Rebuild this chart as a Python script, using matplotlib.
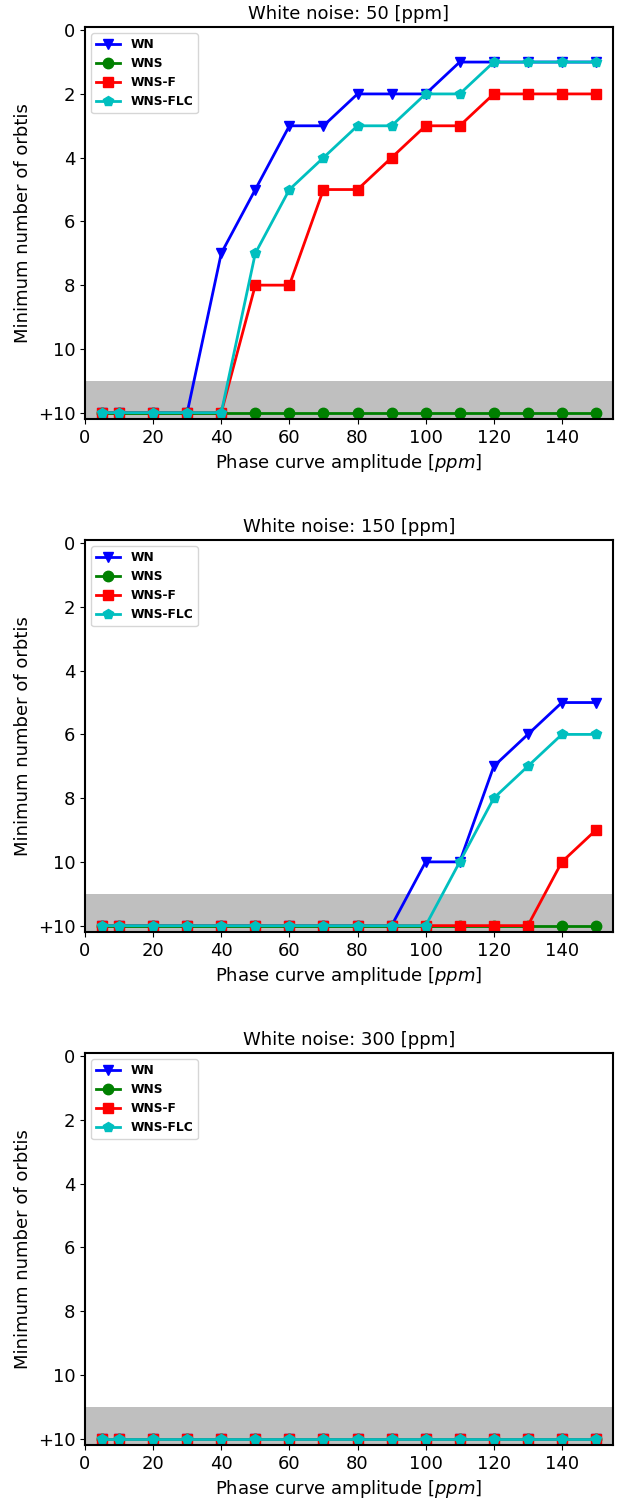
import matplotlib
matplotlib.use("Agg")
import matplotlib.pyplot as plt

x = [5, 10, 20, 30, 40, 50, 60, 70, 80, 90, 100, 110, 120, 130, 140, 150]
titles = ["White noise: 50 [ppm]", "White noise: 150 [ppm]", "White noise: 300 [ppm]"]
labels = ["WN", "WNS", "WNS-F", "WNS-FLC"]

# Panel 1 (50 ppm)
wn_50 = [12, 12, 12, 12, 7, 5, 3, 3, 2, 2, 2, 1, 1, 1, 1, 1]
wns_50 = [12] * 16
wnsf_50 = [12, 12, 12, 12, 12, 8, 8, 5, 5, 4, 3, 3, 2, 2, 2, 2]
wnsflc_50 = [12, 12, 12, 12, 12, 7, 5, 4, 3, 3, 2, 2, 1, 1, 1, 1]

# Panel 2 (150 ppm)
wn_150 = [12, 12, 12, 12, 12, 12, 12, 12, 12, 12, 10, 10, 7, 6, 5, 5]
wns_150 = [12] * 16
wnsf_150 = [12, 12, 12, 12, 12, 12, 12, 12, 12, 12, 12, 12, 12, 12, 10, 9]
wnsflc_150 = [12, 12, 12, 12, 12, 12, 12, 12, 12, 12, 12, 10, 8, 7, 6, 6]

# Panel 3 (300 ppm)
wn_300 = [12] * 16
wns_300 = [12] * 16
wnsf_300 = [12] * 16
wnsflc_300 = [12] * 16

panels = [
    [wn_50, wns_50, wnsf_50, wnsflc_50],
    [wn_150, wns_150, wnsf_150, wnsflc_150],
    [wn_300, wns_300, wnsf_300, wnsflc_300],
]

yticks = [0, 2, 4, 6, 8, 10, 12]
yticklabels = ["0", "2", "4", "6", "8", "10", "+10"]

colors = ["#0000ff", "#008000", "#ff0000", "#00bfbf"]
markers = ["v", "o", "s", "p"]

W, H = 625, 1501
fig = plt.figure(figsize=(W / 100, H / 100), dpi=100)

tops = [27, 540, 1053]
ax_h = 392
left, right = 85, 613

for i, series in enumerate(panels):
    ax = fig.add_axes([left / W, 1 - (tops[i] + ax_h) / H, (right - left) / W, ax_h / H])
    ax.axhspan(11, 12.2, color="#bfbfbf", zorder=0, lw=0)
    for s, lab, c, m in zip(series, labels, colors, markers):
        ax.plot(x, s, color=c, marker=m, label=lab, lw=2, markersize=7.5)
    ax.set_xlim(0, 155)
    ax.set_ylim(12.2, -0.1)
    ax.set_yticks(yticks)
    ax.set_yticklabels(yticklabels)
    ax.set_xticks(range(0, 141, 20))
    ax.tick_params(labelsize=13)
    for sp in ax.spines.values():
        sp.set_linewidth(1.5)
    ax.set_title(titles[i], fontsize=13)
    ax.set_xlabel("Phase curve amplitude [$ppm$]", fontsize=13)
    ax.set_ylabel("Minimum number of orbtis", fontsize=13)
    ax.legend(loc="upper left", prop={"weight": "bold", "size": 8.8})

fig.savefig("out.png", dpi=100)
